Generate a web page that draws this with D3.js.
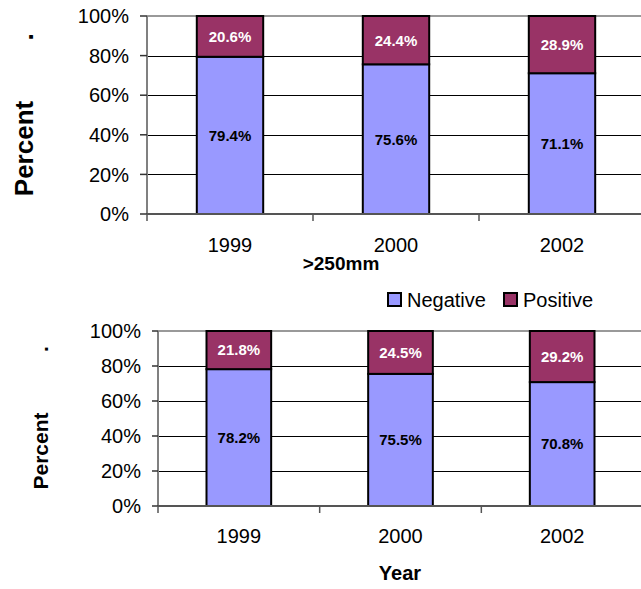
<!DOCTYPE html>
<html><head><meta charset="utf-8">
<script src="https://cdn.jsdelivr.net/npm/d3@7"></script>
<style>body{margin:0;background:#fff}svg{display:block;font-family:"Liberation Sans",Arial,sans-serif}</style>
</head><body>
<svg id="c" width="641" height="589"></svg>
<script>
const years = ["1999", "2000", "2002"];
const seriesNames = ["Negative", "Positive"];
const colors = ["#9999FF", "#993366"];
const topNegative = [79.4, 75.6, 71.1];
const topPositive = [20.6, 24.4, 28.9];
const bottomNegative = [78.2, 75.5, 70.8];
const bottomPositive = [21.8, 24.5, 29.2];
const yTicks = [0, 20, 40, 60, 80, 100];
const topXTitle = ">250mm";
const bottomXTitle = "Year";
const yTitle = "Percent";

const svg = d3.select("#c");

function panel(cfg) {
  const {neg, pos, x0, x1, y0, y1, yLabelX, tickLen, yearBase, titleX, titleY, titleSize, dotY} = cfg;
  const x = d3.scaleBand().domain(years).range([x0, x1]).paddingInner(0.6).paddingOuter(0.3);
  const y = d3.scaleLinear().domain([0, 100]).range([y0, y1]);
  const g = svg.append("g");
  // gridlines
  g.selectAll(".grid").data(yTicks.filter(t => t > 0 && t < 100)).join("line")
    .attr("x1", x0).attr("x2", x1).attr("y1", d => Math.round(y(d)) + 0.5).attr("y2", d => Math.round(y(d)) + 0.5)
    .attr("stroke", "#000").attr("stroke-width", 1);
  // top border
  g.append("line").attr("x1", x0).attr("x2", x1).attr("y1", y(100)).attr("y2", y(100))
    .attr("stroke", "#999").attr("stroke-width", 2);
  // bars
  const data = years.map((yr, i) => ({yr, v: [neg[i], pos[i]]}));
  data.forEach(d => {
    let acc = 0;
    d.v.forEach((v, s) => {
      g.append("rect").attr("x", x(d.yr)).attr("width", x.bandwidth())
        .attr("y", y(acc + v)).attr("height", y(acc) - y(acc + v))
        .attr("fill", colors[s]).attr("stroke", "#000").attr("stroke-width", 2);
      acc += v;
    });
    acc = 0;
    d.v.forEach((v, s) => {
      g.append("text").attr("x", x(d.yr) + x.bandwidth() / 2).attr("y", y(acc + v / 2))
        .attr("dy", "0.36em").attr("text-anchor", "middle")
        .attr("font-size", 15).attr("font-weight", "bold")
        .attr("fill", s === 0 ? "#000" : "#fff").text(v.toFixed(1) + "%");
      acc += v;
    });
  });
  // y axis
  g.append("line").attr("x1", x0).attr("x2", x0).attr("y1", y(0)).attr("y2", y(100))
    .attr("stroke", "#808080").attr("stroke-width", 2);
  g.selectAll(".yt").data(yTicks).join("line")
    .attr("x1", x0 - tickLen).attr("x2", x0).attr("y1", d => y(d)).attr("y2", d => y(d))
    .attr("stroke", "#333").attr("stroke-width", 1.5);
  g.selectAll(".yl").data(yTicks).join("text")
    .attr("x", yLabelX).attr("y", d => y(d)).attr("dy", "0.36em").attr("text-anchor", "end")
    .attr("font-size", 20).attr("fill", "#000").text(d => d + "%");
  // x axis
  g.append("line").attr("x1", x0).attr("x2", x1).attr("y1", y(0)).attr("y2", y(0))
    .attr("stroke", "#555").attr("stroke-width", 2);
  const step = x.step();
  const bounds = years.map(yr => x(yr) - (step - x.bandwidth()) / 2);
  g.selectAll(".xt").data(bounds).join("line")
    .attr("x1", d => d).attr("x2", d => d).attr("y1", y(0)).attr("y2", y(0) + 7)
    .attr("stroke", "#555").attr("stroke-width", 1.5);
  g.selectAll(".xl").data(years).join("text")
    .attr("x", d => x(d) + x.bandwidth() / 2).attr("y", yearBase).attr("text-anchor", "middle")
    .attr("font-size", 20).attr("fill", "#000").text(d => d);
  // y title
  g.append("text").attr("transform", `translate(${cfg.yTitleX},${cfg.yTitleY}) rotate(-90)`)
    .attr("text-anchor", "middle").attr("font-size", cfg.yTitleSize).attr("font-weight", "bold").text(yTitle);
  g.append("text").attr("transform", `translate(${cfg.yTitleX},${dotY}) rotate(-90)`)
    .attr("text-anchor", "middle").attr("font-size", cfg.yTitleSize).attr("font-weight", "bold").text(".");
  // x title
  g.append("text").attr("x", titleX).attr("y", titleY).attr("text-anchor", "middle")
    .attr("font-size", titleSize).attr("font-weight", "bold").text(cfg.title);
}

panel({neg: topNegative, pos: topPositive, x0: 147, x1: 645, y0: 214, y1: 16, yLabelX: 129, tickLen: 7,
  yearBase: 252, title: topXTitle, titleX: 341, titleY: 270, titleSize: 19,
  yTitleX: 33, yTitleY: 148.5, yTitleSize: 26, dotY: 37});
panel({neg: bottomNegative, pos: bottomPositive, x0: 158, x1: 643, y0: 506, y1: 331, yLabelX: 141, tickLen: 6,
  yearBase: 543, title: bottomXTitle, titleX: 400, titleY: 580, titleSize: 20,
  yTitleX: 48, yTitleY: 451, yTitleSize: 21, dotY: 349});

// legend
const legX = [387, 503];
const leg = svg.append("g");
seriesNames.forEach((n, i) => {
  leg.append("rect").attr("x", legX[i] + 1).attr("y", 293).attr("width", 13).attr("height", 13)
    .attr("fill", colors[i]).attr("stroke", "#000").attr("stroke-width", 2);
  leg.append("text").attr("x", legX[i] + 20).attr("y", 307).attr("font-size", 20).attr("fill", "#000").text(n);
});
</script>
</body></html>
